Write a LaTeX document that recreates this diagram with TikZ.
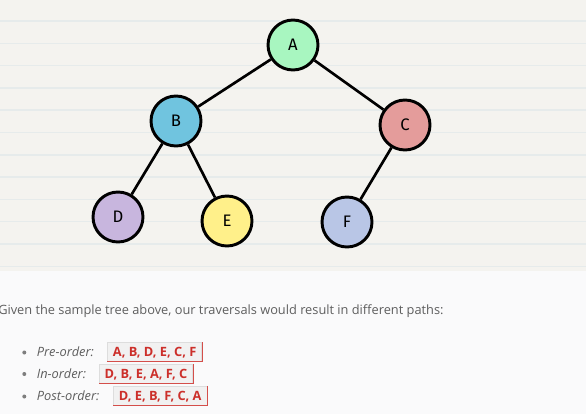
\documentclass[tikz,border=0pt]{standalone}
\usepackage{fontspec}
\setmainfont{Open Sans}
\newfontfamily\handfont{Fira Sans}
\definecolor{topbg}{HTML}{F4F3EF}
\definecolor{rule}{HTML}{E6EBEB}
\definecolor{botbg}{HTML}{FAFAFB}
\definecolor{cA}{HTML}{A8F6C0}
\definecolor{cB}{HTML}{70C4DF}
\definecolor{cC}{HTML}{E49C9B}
\definecolor{cD}{HTML}{C8B6DE}
\definecolor{cE}{HTML}{FFF08A}
\definecolor{cF}{HTML}{B9C6E6}
\definecolor{txt}{HTML}{5E5E5E}
\definecolor{codered}{HTML}{CC2F2A}
\definecolor{codebg}{HTML}{F1F1F1}
\definecolor{codeline}{HTML}{DDDDDD}
\begin{document}
\begin{tikzpicture}[x=0.75pt,y=-0.75pt,
  treenode/.style={circle,draw=black,line width=2.2pt,minimum size=37.5pt,inner sep=0pt,font=\handfont\fontsize{12.5}{14}\selectfont},
  edge/.style={line width=2pt,black},
  bodytext/.style={anchor=base west,inner sep=0pt,text=txt,font=\fontsize{9.6}{11}\selectfont},
  label/.style={anchor=base west,inner sep=0pt,text=txt,font=\itshape\fontsize{9.6}{11}\selectfont},
  codebox/.style={anchor=west,fill=codebg,draw=codeline,line width=0.6pt,text=codered,font=\bfseries\fontsize{9.6}{11}\selectfont,inner xsep=4pt,minimum height=14pt,text depth=0pt},
  bulletdot/.style={circle,fill=txt!80,inner sep=0pt,minimum size=3pt}]
\useasboundingbox (0,0) rectangle (586,414);
\clip (0,0) rectangle (586,414);
% backgrounds
\fill[topbg] (0,0) rectangle (586,271);
\fill[botbg] (0,271) rectangle (586,414);
\foreach \k in {0,...,11}{
  \draw[rule,line width=1.1pt] (0,{21+22.3*\k}) -- (586,{21+22.3*\k});
}
% tree nodes
\node[treenode,fill=cA] (A) at (293,45) {A};
\node[treenode,fill=cB] (B) at (176,121) {B};
\node[treenode,fill=cC] (C) at (405,125) {C};
\node[treenode,fill=cD] (D) at (118,217) {D};
\node[treenode,fill=cE] (E) at (227,221) {E};
\node[treenode,fill=cF] (F) at (347,222) {F};
% edges
\draw[edge] (A) -- (B);
\draw[edge] (A) -- (C);
\draw[edge] (B) -- (D);
\draw[edge] (B) -- (E);
\draw[edge] (C) -- (F);
% text
\node[bodytext] (intro) at (-2,314) {Given the sample tree above, our traversals would result in different paths:};
% list
\node[bulletdot] (d1) at (24.3,352.5) {};
\node[bulletdot] (d2) at (24.3,374) {};
\node[bulletdot] (d3) at (24.3,396.5) {};
\node[label] (l1) at (36.6,356.3) {Pre-order:};
\node[label] (l2) at (36.6,378) {In-order:};
\node[label] (l3) at (36.6,400.3) {Post-order:};
\node[codebox] (b1) at (107.2,351.8) {A, B, D, E, C, F};
\node[codebox] (b2) at (99,373.6) {D, B, E, A, F, C};
\node[codebox] (b3) at (113.2,395.7) {D, E, B, F, C, A};
\foreach \b in {b1,b2,b3}{
  \draw[codered!85,line width=0.75pt] (\b.north east) -- (\b.south east) -- (\b.south west);
}
\end{tikzpicture}
\end{document}
